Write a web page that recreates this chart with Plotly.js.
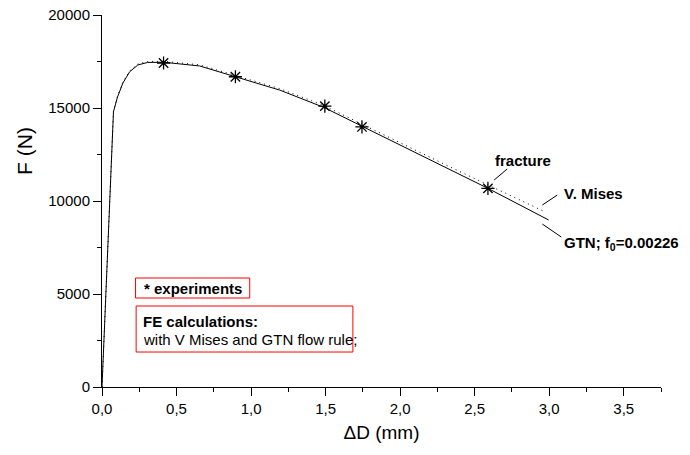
<!DOCTYPE html>
<html>
<head>
<meta charset="utf-8">
<script src="https://cdn.plot.ly/plotly-3.0.1.min.js"></script>
<style>html,body{margin:0;padding:0;background:#fff;}#chart{width:690px;height:455px;}</style>
</head>
<body>
<div id="chart"></div>
<script>
// Experiments (stars)
const expD = [0.413, 0.895, 1.495, 1.744, 2.589];
const expF = [17420, 16680, 15100, 13980, 10680];

// FE: GTN (solid)
const gtnD = [0, 0.077, 0.104, 0.14, 0.185, 0.24, 0.306, 0.413, 0.655, 0.895, 1.193, 1.489, 1.742, 2.0, 2.335, 2.589, 2.996];
const gtnF = [0, 14800, 15590, 16340, 16940, 17310, 17450, 17460, 17260, 16680, 15960, 15030, 14030, 12980, 11670, 10680, 8980];

// FE: V. Mises (dotted)
const vmD = [0, 0.077, 0.104, 0.14, 0.185, 0.24, 0.306, 0.413, 0.655, 0.895, 1.193, 1.489, 1.742, 2.0, 2.335, 2.589, 2.96];
const vmF = [0, 14830, 15630, 16390, 16990, 17360, 17500, 17510, 17320, 16740, 16040, 15130, 14160, 13130, 11830, 10860, 9460];

const xTitle = '\u0394D (mm)';
const yTitle = 'F (N)';

const FONT = 'Liberation Sans, Arial, sans-serif';

const traces = [
  {x: vmD, y: vmF, mode: 'lines', line: {color: '#000', width: 1, dash: '1px,4px'}, hoverinfo: 'skip'},
  {x: gtnD, y: gtnF, mode: 'lines', line: {color: '#000', width: 1}, hoverinfo: 'skip'},
  {x: expD, y: expF, mode: 'markers', marker: {symbol: 'asterisk-open', size: 11, color: '#000', line: {color: '#000', width: 1.3}}, hoverinfo: 'skip'}
];

const ann = (x, y, text, opts) => Object.assign({x: x, y: y, xref: 'x', yref: 'y', text: text, showarrow: false, xanchor: 'left', yanchor: 'middle', font: {family: FONT, size: 15, color: '#000'}}, opts || {});

const layout = {
  width: 690, height: 455,
  margin: {l: 102, r: 29, t: 15, b: 68},
  paper_bgcolor: '#fff', plot_bgcolor: '#fff',
  showlegend: false,
  separators: ',.',
  font: {family: FONT, color: '#000'},
  xaxis: {
    range: [0, 3.75], dtick: 0.5, tick0: 0, tickformat: '.1f',
    showgrid: false, zeroline: false, showline: true, linecolor: '#000', linewidth: 1,
    ticks: 'outside', ticklen: 8, tickcolor: '#000', tickwidth: 1,
    minor: {dtick: 0.25, ticks: 'outside', ticklen: 4, tickcolor: '#000', showgrid: false},
    tickfont: {family: FONT, size: 15, color: '#000'},
    title: {text: xTitle, font: {family: FONT, size: 19, color: '#000'}, standoff: 9}
  },
  yaxis: {
    range: [0, 20000], dtick: 5000, tick0: 0, tickformat: 'd',
    showgrid: false, zeroline: false, showline: true, linecolor: '#000', linewidth: 1,
    ticks: 'outside', ticklen: 8, tickcolor: '#000', tickwidth: 1,
    minor: {dtick: 2500, ticks: 'outside', ticklen: 4, tickcolor: '#000', showgrid: false},
    tickfont: {family: FONT, size: 15, color: '#000'}
  },
  shapes: [
    {type: 'rect', xref: 'x', yref: 'y', x0: 0.225, x1: 0.991, y0: 4785, y1: 5860, line: {color: '#ff0000', width: 1}},
    {type: 'rect', xref: 'x', yref: 'y', x0: 0.229, x1: 1.683, y0: 1880, y1: 4355, line: {color: '#ff0000', width: 1}},
    {type: 'line', xref: 'x', yref: 'y', x0: 2.718, y0: 11720, x1: 2.631, y1: 11130, line: {color: '#000', width: 1}},
    {type: 'line', xref: 'x', yref: 'y', x0: 3.054, y0: 10320, x1: 2.954, y1: 9785, line: {color: '#000', width: 1}},
    {type: 'line', xref: 'x', yref: 'y', x0: 2.954, y0: 8760, x1: 3.081, y1: 8065, line: {color: '#000', width: 1}}
  ],
  annotations: [
    {xref: 'paper', yref: 'paper', x: -0.14, y: 0.634, text: yTitle, textangle: -90, showarrow: false, xanchor: 'center', yanchor: 'middle', font: {family: FONT, size: 21, color: '#000'}},
    ann(2.624, 12200, '<b>fracture</b>'),
    ann(3.088, 10430, '<b>V. Mises</b>'),
    ann(3.088, 7700, '<b>GTN; f<sub>0</sub>=0.00226</b>'),
    ann(0.27, 5320, '<b>* experiments</b>'),
    ann(0.263, 3495, '<b>FE calculations:</b>'),
    ann(0.263, 2580, 'with V Mises and GTN flow rule;')
  ]
};

Plotly.newPlot('chart', traces, layout, {staticPlot: true, displayModeBar: false});
</script>
</body>
</html>
